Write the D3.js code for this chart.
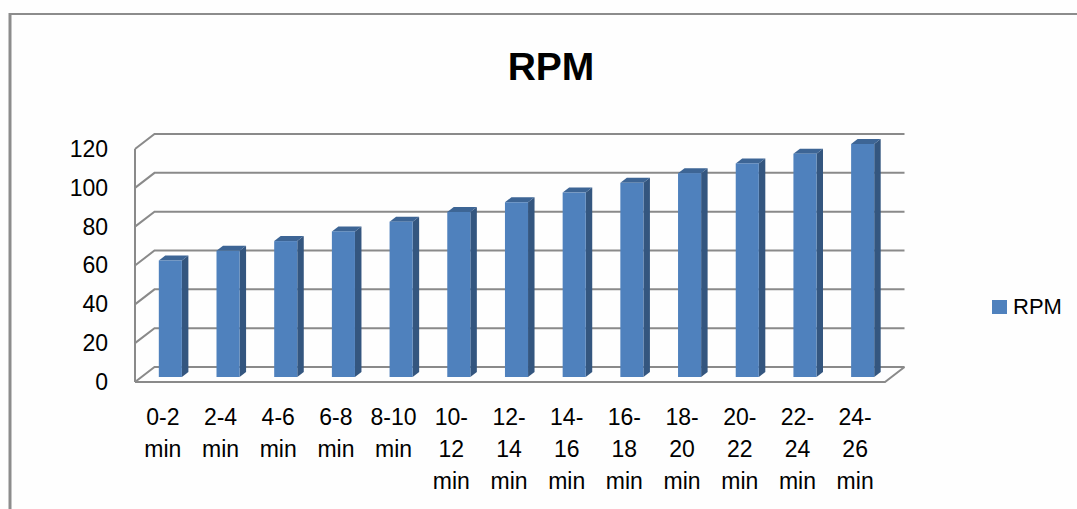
<!DOCTYPE html>
<html>
<head>
<meta charset="utf-8">
<script src="https://cdn.jsdelivr.net/npm/d3@7/dist/d3.min.js"></script>
<style>
  html, body { margin: 0; padding: 0; background: #fefefe; }
  svg { display: block; }
</style>
</head>
<body>
<svg id="chart" width="1077" height="509"></svg>
<script>
// RPM readings per two-minute interval
const categories = ["0-2 min", "2-4 min", "4-6 min", "6-8 min", "8-10 min", "10-12 min",
  "12-14 min", "14-16 min", "16-18 min", "18-20 min", "20-22 min", "22-24 min", "24-26 min"];
const rpmValues = [60, 65, 70, 75, 80, 85, 90, 95, 100, 105, 110, 115, 120];
const yTicks = [0, 20, 40, 60, 80, 100, 120];
const seriesName = "RPM";

(function () {
const svg = d3.select("#chart");
const font = "'Liberation Sans', Arial, sans-serif";

// plot floor, front edge
const plotLeft = 135, plotRight = 885, plotBottom = 382, plotTop = 149;
// full depth of the plot box in screen space
const depthX = 19.5, depthY = -15;

const x = d3.scaleBand().domain(categories).range([plotLeft, plotRight]).padding(0);
const y = d3.scaleLinear().domain([0, 120]).range([plotBottom, plotTop]);

// outer chart frame
svg.append("line").attr("x1", 10).attr("x2", 10).attr("y1", 13).attr("y2", 509)
  .attr("stroke", "#8c8c8c").attr("stroke-width", 3);
svg.append("line").attr("x1", 9).attr("x2", 1077).attr("y1", 14).attr("y2", 14)
  .attr("stroke", "#8c8c8c").attr("stroke-width", 2);

// title
svg.append("text").attr("x", 551).attr("y", 80).attr("text-anchor", "middle")
  .attr("font-family", font).attr("font-weight", "bold").attr("font-size", 39)
  .attr("fill", "#000").text(seriesName);

const gridColor = "#8a8a8a";
const grid = svg.append("g").attr("stroke", gridColor).attr("stroke-width", 2).attr("fill", "none");

// floor outline
grid.append("path")
  .attr("d", `M${plotLeft},${plotBottom} L${plotRight},${plotBottom} L${plotRight + depthX},${plotBottom + depthY}`);
// left wall front edge
grid.append("line").attr("x1", plotLeft).attr("x2", plotLeft).attr("y1", y(120)).attr("y2", y(0));

// gridlines across side wall and back wall
yTicks.forEach(t => {
  const yf = y(t), yb = y(t) + depthY;
  grid.append("path")
    .attr("d", `M${plotLeft},${yf} L${plotLeft + depthX},${yb} L${plotRight + depthX},${yb}`);
});

// value axis labels
const yAxis = d3.axisLeft(y).tickValues(yTicks).tickSize(0).tickPadding(0).tickFormat(d3.format("d"));
const yg = svg.append("g").attr("transform", "translate(108,0)").call(yAxis);
yg.select(".domain").remove();
yg.selectAll("text").attr("font-family", font).attr("font-size", 23).attr("fill", "#000");

// 3D columns
const barFrac = 0.4;
const bx = depthX / 3, by = depthY / 3;   // bars sit in the middle third of the depth
const bars = svg.append("g");
categories.forEach((c, i) => {
  const w = x.bandwidth() * barFrac;
  const x0 = x(c) + (x.bandwidth() - w) / 2 + bx;
  const yT = y(rpmValues[i]) + by, yB = y(0) + by;
  const g = bars.append("g");
  // side face
  g.append("path")
    .attr("d", `M${x0 + w},${yT} L${x0 + w + bx},${yT + by} L${x0 + w + bx},${yB + by} L${x0 + w},${yB} Z`)
    .attr("fill", "#34567f");
  // top face
  g.append("path")
    .attr("d", `M${x0},${yT} L${x0 + bx},${yT + by} L${x0 + w + bx},${yT + by} L${x0 + w},${yT} Z`)
    .attr("fill", "#3d6595");
  // front face
  g.append("rect").attr("x", x0).attr("y", yT).attr("width", w).attr("height", yB - yT)
    .attr("fill", "#4f81bd");
});

// category labels, wrapped to the band width
const ctx = document.createElement("canvas").getContext("2d");
ctx.font = "23px 'Liberation Sans', Arial, sans-serif";
function wrap(label, maxW) {
  const tokens = label.match(/[^\s-]+-?/g);
  const lines = [];
  let cur = "";
  tokens.forEach(tok => {
    const joiner = cur === "" ? "" : (cur.endsWith("-") ? "" : " ");
    const trial = cur + joiner + tok;
    if (cur !== "" && ctx.measureText(trial).width > maxW) {
      lines.push(cur);
      cur = tok;
    } else {
      cur = trial;
    }
  });
  if (cur) lines.push(cur);
  return lines;
}
const xl = svg.append("g").attr("font-family", font).attr("font-size", 23).attr("fill", "#000")
  .attr("text-anchor", "middle");
categories.forEach(c => {
  const cx = x(c) + x.bandwidth() / 2 - 1;
  const lines = wrap(c, x.bandwidth() - 4);
  const t = xl.append("text").attr("x", cx).attr("y", 425);
  lines.forEach((ln, k) => {
    t.append("tspan").attr("x", cx).attr("y", 425 + k * 32).text(ln);
  });
});

// legend
svg.append("rect").attr("x", 992).attr("y", 300).attr("width", 15).attr("height", 14).attr("fill", "#4f81bd");
svg.append("text").attr("x", 1013).attr("y", 314).attr("font-family", font).attr("font-size", 22)
  .attr("fill", "#000").text(seriesName);
})();
</script>
</body>
</html>
